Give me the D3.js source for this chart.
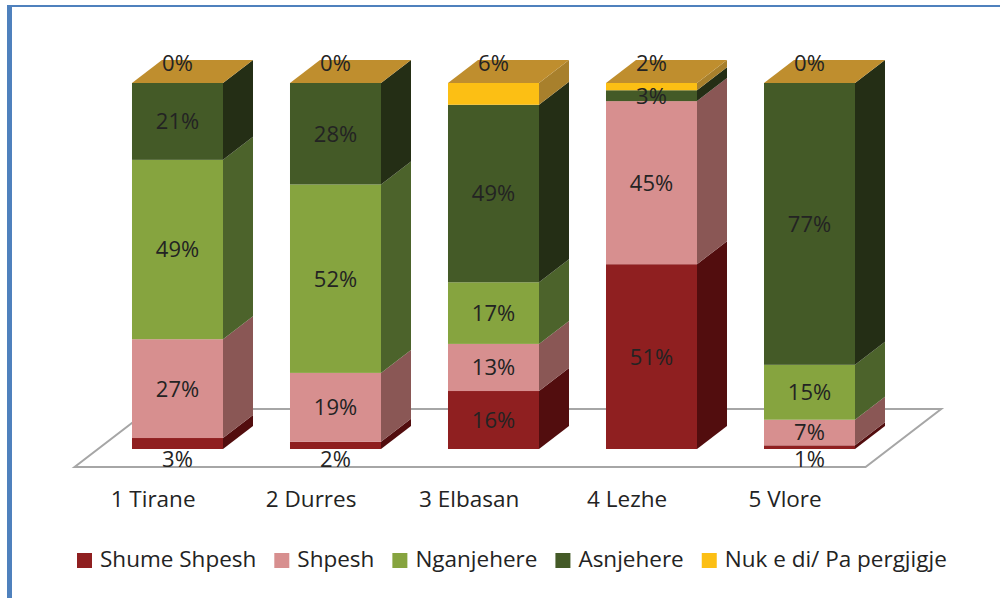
<!DOCTYPE html>
<html><head><meta charset="utf-8">
<script src="https://cdn.jsdelivr.net/npm/d3@7"></script>
<style>html,body{margin:0;padding:0;background:#fff;}svg{display:block;}</style>
</head><body>
<svg id="chart" width="1000" height="598"></svg>
<script>
const categories = ["1 Tirane", "2 Durres", "3 Elbasan", "4 Lezhe", "5 Vlore"];
const seriesNames = ["Shume Shpesh", "Shpesh", "Nganjehere", "Asnjehere", "Nuk e di/ Pa pergjigje"];
const shumeShpesh = [3, 2, 16, 51, 1];
const shpesh = [27, 19, 13, 45, 7];
const nganjehere = [49, 52, 17, 0, 15];
const asnjehere = [21, 28, 49, 3, 77];
const nukEDi = [0, 0, 6, 2, 0];
const seriesValues = [shumeShpesh, shpesh, nganjehere, asnjehere, nukEDi];

const frontColors = ["#8f1f20", "#d78f8f", "#86a43f", "#445a27", "#fcbf14"];
const sideColors  = ["#520d0e", "#8a5755", "#4c632b", "#242e15", "#a8802c"];
const topColor = "#bf8e2e";

const svg = d3.select("#chart");
const FONT = "'Open Sans', sans-serif";
const textColor = "#232323";

// frame
svg.append("rect").attr("x", 7).attr("y", 5).attr("width", 993).attr("height", 2).attr("fill", "#4f81bd");
svg.append("rect").attr("x", 7).attr("y", 5).attr("width", 5).attr("height", 593).attr("fill", "#4f81bd");

const x = d3.scaleBand().domain(categories).range([65, 922]).padding(0.424);
const y = d3.scaleLinear().domain([0, 1]).range([449, 83]);
const depth = {dx: 30, dy: -23};

// floor
const fx0 = 98, fx1 = 889;
const zFront = -0.78, zBack = 1.74;
const P = (px, z) => [px + z * depth.dx, y(0) + z * depth.dy];
const floorPts = [P(fx0, zFront), P(fx1, zFront), P(fx1, zBack), P(fx0, zBack)];
svg.append("polygon").attr("points", floorPts.map(p => p.join(",")).join(" "))
  .attr("fill", "none").attr("stroke", "#a6a6a6").attr("stroke-width", 2);

// stacked data normalized to 100%
const rows = categories.map((c, i) => {
  const vals = seriesValues.map(s => s[i]);
  const total = d3.sum(vals);
  let acc = 0;
  return {cat: c, segs: vals.map((v, k) => { const s = {k, v, y0: acc / total, y1: (acc + v) / total}; acc += v; return s; })};
});

const gBars = svg.append("g");
const labels = [];
rows.forEach(r => {
  const x0 = x(r.cat), w = x.bandwidth(), x1 = x0 + w;
  const g = gBars.append("g");
  r.segs.forEach(s => {
    const yb = y(s.y0), yt = y(s.y1);
    if (yb - yt > 0.01) {
      g.append("rect").attr("x", x0).attr("y", yt).attr("width", w).attr("height", yb - yt)
        .attr("fill", frontColors[s.k]);
      g.append("polygon").attr("points", [[x1, yt], [x1 + depth.dx, yt + depth.dy], [x1 + depth.dx, yb + depth.dy], [x1, yb]].map(p => p.join(",")).join(" "))
        .attr("fill", sideColors[s.k]);
    }
    let cy = (yb + yt) / 2;
    if (s.k === seriesValues.length - 1) cy = y(1) - 20;
    else if (s.k === 0 && s.v < 5) cy = y(0) + 10;
    if (!(s.v === 0 && s.k !== seriesValues.length - 1)) labels.push({x: x0 + w / 2, y: cy, t: s.v + "%"});
  });
  const yTop = y(1);
  g.append("polygon").attr("points", [[x0, yTop], [x0 + depth.dx, yTop + depth.dy], [x1 + depth.dx, yTop + depth.dy], [x1, yTop]].map(p => p.join(",")).join(" "))
    .attr("fill", topColor);
});

svg.append("g").selectAll("text").data(labels)
  .join("text").attr("x", d => d.x).attr("y", d => d.y).attr("dy", "0.36em")
  .attr("text-anchor", "middle").attr("font-family", FONT).attr("font-size", 22)
  .attr("fill", textColor).text(d => d.t);

// category labels (front edge of floor)
svg.append("g").selectAll("text").data(categories).join("text")
  .attr("x", d => x(d) + x.bandwidth() / 2 + (0.5 + zFront) * depth.dx - 16)
  .attr("y", 507).attr("text-anchor", "middle").attr("font-family", FONT).attr("font-size", 22.5)
  .attr("fill", textColor).text(d => d);

// legend
const lg = svg.append("g");
let lx = 77;
seriesNames.forEach((n, k) => {
  lg.append("rect").attr("x", lx).attr("y", 553).attr("width", 15).attr("height", 15).attr("fill", frontColors[k]);
  const t = lg.append("text").attr("x", lx + 23).attr("y", 567).attr("font-family", FONT).attr("font-size", 22.5)
    .attr("fill", textColor).text(n);
  lx += 23 + t.node().getComputedTextLength() + 18;
});
</script>
</body></html>
